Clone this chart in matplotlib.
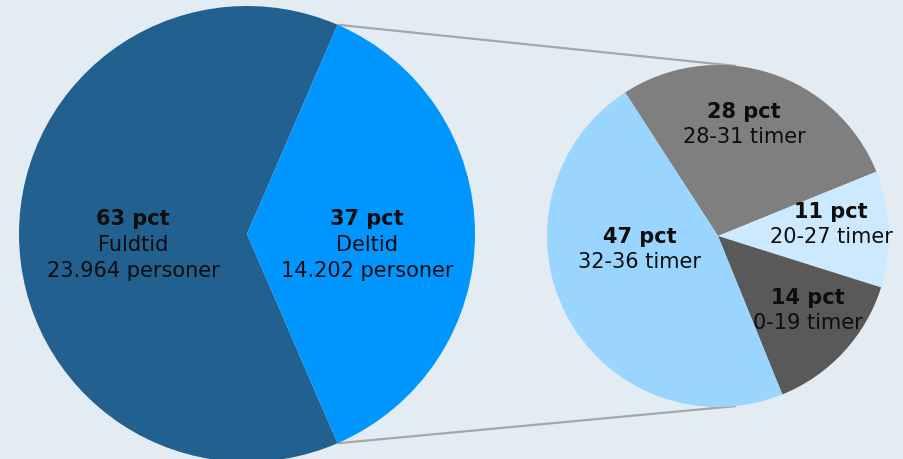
import numpy as np
from matplotlib import pyplot as plt

# main split
main_labels = ['Fuldtid', 'Deltid']
main_pct = [63, 37]
main_persons = ['23.964', '14.202']
main_colors = ['#22608f', '#0096ff']

# breakdown of part-time hours
sub_labels = ['28-31 timer', '20-27 timer', '0-19 timer', '32-36 timer']
sub_pct = [28, 11, 14, 47]
sub_colors = ['#7f7f7f', '#cce9ff', '#595959', '#99d5ff']

bg = '#e4ecf3'
txt = '#0d0d0d'
plt.rcParams['font.family'] = ['DejaVu Sans']

fig = plt.figure(figsize=(9.04, 4.60), dpi=100, facecolor=bg)
ax = fig.add_axes([0, 0, 1, 1])
ax.set_facecolor(bg)

# left pie, part-time slice centred on the right side
c1, r1 = (247, 225), 228
start1 = 180 - main_pct[0] / 100 * 360 / 2
ax.pie(main_pct, colors=main_colors, startangle=start1, center=c1, radius=r1,
       wedgeprops=dict(linewidth=0), frame=True)

# right pie
c2, r2 = (718, 223), 171
ax.pie(sub_pct, colors=sub_colors, startangle=122.9, counterclock=False,
       center=c2, radius=r2, wedgeprops=dict(linewidth=0), frame=True)
ax.set_xlim(0, 904)
ax.set_ylim(0, 460)
ax.set_aspect('equal')
ax.axis('off')

# connector lines from the part-time slice edges to the small pie
half = main_pct[1] / 100 * 360 / 2
for s in (1, -1):
    a1 = np.radians(s * half)
    a2 = np.radians(s * 84)
    ax.plot([c1[0] + r1 * np.cos(a1), c2[0] + r2 * np.cos(a2)],
            [c1[1] + r1 * np.sin(a1), c2[1] + r2 * np.sin(a2)],
            color='#a6a6a6', lw=1.6, zorder=0.5, solid_capstyle='butt')

fs = 15
# left labels (offsets from pie centre)
main_pos = [(-114, 0), (120, 0)]
for lab, p, n, (dx, dy) in zip(main_labels, main_pct, main_persons, main_pos):
    x, y = c1[0] + dx, c1[1] + dy
    ax.text(x, y + 16, f'{p} pct', ha='center', va='center', fontsize=fs,
            fontweight='bold', color=txt)
    ax.text(x, y - 10, lab, ha='center', va='center', fontsize=fs, color=txt)
    ax.text(x, y - 36, f'{n} personer', ha='center', va='center', fontsize=fs, color=txt)

sub_pos = [(26, 112), (113, 12), (90, -74), (-78, -13)]
for lab, p, (dx, dy) in zip(sub_labels, sub_pct, sub_pos):
    x, y = c2[0] + dx, c2[1] + dy
    ax.text(x, y + 13, f'{p} pct', ha='center', va='center', fontsize=fs,
            fontweight='bold', color=txt)
    ax.text(x, y - 12, lab, ha='center', va='center', fontsize=fs, color=txt)

fig.savefig('out.png', dpi=100, facecolor=bg)
